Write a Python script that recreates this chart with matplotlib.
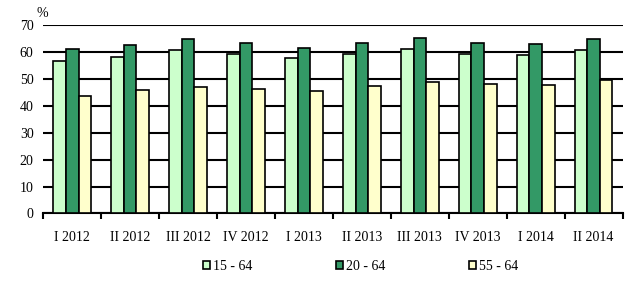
import matplotlib.pyplot as plt
import numpy as np

plt.rcParams['font.family'] = ['Liberation Serif', 'DejaVu Serif']

quarters = ['I 2012', 'II 2012', 'III 2012', 'IV 2012', 'I 2013',
            'II 2013', 'III 2013', 'IV 2013', 'I 2014', 'II 2014']
age_15_64 = [56.7, 58.2, 60.6, 59.3, 57.6, 59.3, 61.0, 59.4, 58.8, 60.8]
age_20_64 = [61.0, 62.6, 64.7, 63.3, 61.6, 63.5, 65.1, 63.4, 62.9, 64.9]
age_55_64 = [43.7, 46.0, 47.0, 46.1, 45.4, 47.3, 48.9, 48.0, 47.8, 49.4]

series = [('15 - 64', age_15_64, '#CCFFCC'),
          ('20 - 64', age_20_64, '#339966'),
          ('55 - 64', age_55_64, '#FFFFCC')]

fig = plt.figure(figsize=(6.4, 2.88), dpi=100)
ax = fig.add_axes([0.0677, 0.259, 0.905, 0.654])

x = np.arange(len(quarters)) + 0.5
w = 0.217
for i, (name, vals, col) in enumerate(series):
    ax.bar(x + (i - 1) * w, vals, width=w, color=col, edgecolor='black',
           linewidth=1.2, label=name, zorder=3)

ax.set_xlim(0, len(quarters))
ax.set_ylim(0, 70)
ax.set_yticks(range(0, 71, 10))
ax.yaxis.grid(True, color='black', linewidth=1.5, zorder=0)
ax.tick_params(axis='y', length=0, pad=7, labelsize=10)

ax.set_xticks(x)
ax.set_xticklabels(quarters)
ax.set_xticks(np.arange(len(quarters) + 1), minor=True)
ax.tick_params(axis='x', which='major', length=0, pad=13, labelsize=10)
ax.tick_params(axis='x', which='minor', length=4, width=1.5, direction='out')

for s in ['left', 'right', 'top']:
    ax.spines[s].set_visible(False)
ax.spines['bottom'].set_linewidth(1.5)

ax.text(-0.02, 74.2, '%', fontsize=10, ha='center', va='center', clip_on=False)

ax.legend(loc='center', bbox_to_anchor=(0.548, -0.28), ncol=3, frameon=False,
          fontsize=10, handlelength=0.5, handleheight=0.5, handletextpad=0.25,
          columnspacing=6.0, borderpad=0)

fig.savefig('out.png', dpi=100)
